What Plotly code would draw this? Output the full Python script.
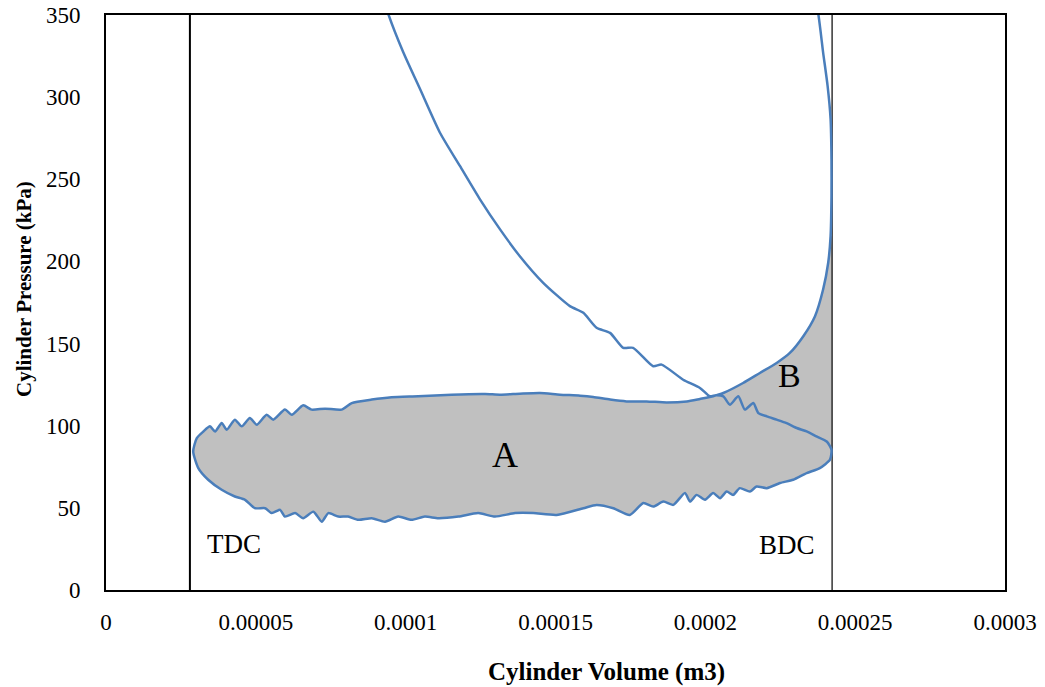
import plotly.graph_objects as go

VOL_UNIT = 1e-5  # volumes below are given in units of 1e-5 m3

# B branch: from the top of the chart down along BDC and down-left to the crossing
b_v = [23.55, 23.77, 23.93, 24.08, 24.18, 24.21, 24.21, 24.18, 24.10, 23.93, 23.66,
       23.27, 22.82, 22.38, 21.82, 21.26, 20.60]
b_p = [370.0, 350.6, 327.3, 306.9, 286.6, 262.2, 239.8, 215.4, 199.2, 182.9, 166.7,
       154.5, 144.3, 138.2, 132.1, 126.0, 119.9]

cross_v = 20.35
cross_p = 118.5

# Upper boundary of loop A: crossing -> TDC
atop_v = [20.26, 19.82, 19.38, 18.71, 18.04, 17.37, 16.82, 16.26, 15.82, 15.15, 14.48,
          13.81, 13.15, 12.65, 11.53, 10.42, 9.53, 8.87, 8.20, 7.86, 7.31, 6.86, 6.58,
          6.20, 5.97, 5.58, 5.36, 5.03, 4.80, 4.53, 4.30, 4.03, 3.86, 3.64, 3.47, 3.25,
          3.03, 2.91]
atop_p = [117.9, 116.3, 114.8, 114.2, 114.8, 114.8, 115.9, 117.5, 118.3, 118.9, 119.9,
          119.5, 118.9, 119.3, 118.9, 117.9, 117.3, 115.9, 113.8, 109.8, 110.4, 109.8, 112.4,
          106.7, 109.8, 103.7, 106.7, 100.6, 104.7, 99.6, 103.7, 97.6, 101.6, 96.5, 99.6, 96.5,
          92.5, 84.3]

# Lower boundary of loop A: TDC -> BDC
low_v = [3.08, 3.41, 3.86, 4.30, 4.64, 4.97, 5.31, 5.53, 5.81, 5.97, 6.31, 6.58, 6.92,
         7.20, 7.42, 7.75, 8.08, 8.42, 8.87, 9.31, 9.75, 10.20, 10.64, 11.09, 11.76, 12.42,
         12.98, 13.65, 14.26, 15.04, 15.93, 16.37, 16.93, 17.48, 17.93, 18.26, 18.60, 18.93,
         19.32, 19.49, 19.71, 19.99, 20.26, 20.49, 20.71, 20.93, 21.15, 21.49, 21.71, 22.05,
         22.49, 22.93, 23.38, 23.82, 24.16, 24.21]
low_p = [74.2, 67.1, 61.0, 56.9, 54.9, 49.8, 49.8, 46.8, 48.8, 44.7, 46.8, 43.7, 47.7,
         41.6, 46.8, 44.7, 44.7, 42.7, 43.7, 41.6, 44.7, 42.7, 44.7, 43.7, 44.7, 46.8,
         44.7, 46.8, 46.8, 45.7, 49.8, 51.8, 49.8, 45.7, 52.9, 50.8, 53.8, 51.8,
         59.0, 53.8, 57.9, 54.9, 59.0, 55.9, 59.9, 57.9, 62.0, 59.9, 63.0, 62.0,
         65.1, 67.1, 71.2, 74.2, 79.3, 85.4]

# Wavy branch: BDC -> crossing
wav_v = [24.05, 23.71, 23.38, 23.05, 22.71, 22.38, 22.05, 21.77, 21.60, 21.32, 21.10,
         20.82, 20.60]
wav_p = [90.4, 93.5, 96.5, 98.6, 101.6, 103.7, 105.7, 107.7, 113.8, 109.8, 117.9,
         112.8, 117.9]

# Expansion branch: crossing -> top left
exp_v = [20.15, 19.82, 19.26, 18.54, 18.26, 17.59, 17.26, 16.82, 16.37, 15.93, 15.48,
         14.59, 13.81, 13.15, 12.48, 11.81, 11.14, 10.48, 9.92, 9.42, 9.10]
exp_p = [117.9, 123.0, 128.0, 137.2, 136.2, 147.4, 147.4, 156.5, 159.6, 168.7, 172.8,
         187.0, 203.2, 219.5, 237.8, 258.1, 278.5, 304.9, 327.3, 350.6, 370.0]

tdc_v = 2.80
bdc_v = 24.23

x_ticks = [0, 0.00005, 0.0001, 0.00015, 0.0002, 0.00025, 0.0003]
x_tick_text = ["0", "0.00005", "0.0001", "0.00015", "0.0002", "0.00025", "0.0003"]
y_ticks = [0, 50, 100, 150, 200, 250, 300, 350]

labels = ["A", "B", "TDC", "BDC"]
label_v = [13.31, 22.82, 4.27, 22.72]
label_p = [82.3, 130.5, 28.0, 27.4]
label_size = [36, 34, 27, 27]

x_title = "Cylinder Volume (m3)"
y_title = "Cylinder Pressure (kPa)"


def vol(a):
    return [x * VOL_UNIT for x in a]


LINE_BLUE = "#4a7ebb"
GRAY = "#c0c0c0"
FONT = "Liberation Serif"
SMOOTH = 0.6

fig = go.Figure()

# Region A fill
a_fill_v = [cross_v] + atop_v + low_v + wav_v + [cross_v]
a_fill_p = [cross_p] + atop_p + low_p + wav_p + [cross_p]
fig.add_trace(go.Scatter(x=vol(a_fill_v), y=a_fill_p, mode="lines", fill="toself",
                         fillcolor=GRAY, line=dict(width=0, color=GRAY, shape="spline", smoothing=SMOOTH),
                         hoverinfo="skip", showlegend=False))

# Region B fill
b_start = 7
b_fill_v = b_v[b_start:] + [cross_v] + wav_v[::-1] + [bdc_v, bdc_v]
b_fill_p = b_p[b_start:] + [cross_p] + wav_p[::-1] + [low_p[-1], b_p[b_start]]
fig.add_trace(go.Scatter(x=vol(b_fill_v), y=b_fill_p, mode="lines", fill="toself",
                         fillcolor=GRAY, line=dict(width=0, color=GRAY),
                         hoverinfo="skip", showlegend=False))

# TDC / BDC lines
fig.add_trace(go.Scatter(x=vol([tdc_v, tdc_v]), y=[0, 350], mode="lines",
                         line=dict(color="black", width=2), hoverinfo="skip", showlegend=False))
fig.add_trace(go.Scatter(x=vol([bdc_v, bdc_v]), y=[0, 350], mode="lines",
                         line=dict(color="black", width=1.2), hoverinfo="skip", showlegend=False))

# Main P-V curve
path_v = b_v + [cross_v] + atop_v + low_v + wav_v + [cross_v] + exp_v
path_p = b_p + [cross_p] + atop_p + low_p + wav_p + [cross_p] + exp_p
fig.add_trace(go.Scatter(x=vol(path_v), y=path_p, mode="lines",
                         line=dict(color=LINE_BLUE, width=2.5, shape="spline", smoothing=SMOOTH),
                         showlegend=False))

for t, v, p, s in zip(labels, label_v, label_p, label_size):
    fig.add_annotation(x=v * VOL_UNIT, y=p, text=t, showarrow=False,
                       font=dict(family=FONT, size=s, color="black"))

# Axis titles as annotations (positioned like the original)
fig.add_annotation(x=0.557, y=-0.143, xref="paper", yref="paper", text=x_title,
                   showarrow=False, xanchor="center", yanchor="middle",
                   font=dict(family=FONT, size=25, color="black", weight="bold"))
fig.add_annotation(x=-0.092, y=0.524, xref="paper", yref="paper", text=y_title,
                   showarrow=False, textangle=-90, xanchor="center", yanchor="middle",
                   font=dict(family=FONT, size=21, color="black", weight="bold"))

fig.update_layout(
    width=1045, height=687,
    margin=dict(l=106, r=40, t=15, b=97),
    paper_bgcolor="white", plot_bgcolor="white",
    font=dict(family=FONT, color="black"),
)
fig.update_xaxes(
    range=[0, 0.0003], tickvals=x_ticks, ticktext=x_tick_text, automargin=False,
    showline=True, linecolor="black", linewidth=2, mirror=True,
    showgrid=False, zeroline=False, ticks="", ticklabelstandoff=10,
    tickfont=dict(family=FONT, size=23, color="black"),
)
fig.update_yaxes(
    range=[0, 350], tickvals=y_ticks, automargin=False,
    showline=True, linecolor="black", linewidth=2, mirror=True,
    showgrid=False, zeroline=False, ticks="", ticklabelstandoff=19,
    tickfont=dict(family=FONT, size=23, color="black"),
)

fig.write_html("out.html")
